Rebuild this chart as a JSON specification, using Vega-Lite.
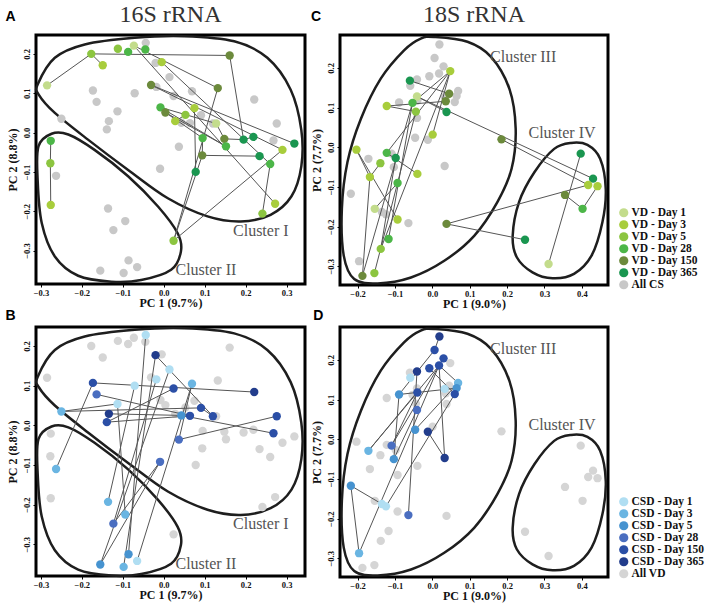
{
"$schema": "https://vega.github.io/schema/vega-lite/v6.json",
"background": "white",
"padding": {"left": 4, "top": 1, "right": 0, "bottom": 0},
"columns": 2,
"bounds": "flush",
"spacing": {"row": 42, "column": 35},
"resolve": {"scale": {"x": "independent", "y": "independent", "color": "independent"}, "legend": {"color": "independent"}},
"config": {
  "view": {"stroke": "#000", "strokeWidth": 3},
  "axis": {"domain": false, "grid": false, "ticks": true, "tickColor": "#000", "tickSize": 3, "labelFont": "Liberation Serif", "labelFontWeight": "bold", "labelFontSize": 8.5, "labelColor": "#111", "labelPadding": 2, "labelFlush": false, "labelOverlap": false, "titleFont": "Liberation Serif", "titleFontWeight": "bold", "titleFontSize": 12, "titleColor": "#111", "titlePadding": 3},
  "axisX": {"labelPadding": 1, "titlePadding": 1},
  "axisY": {"labelAngle": -90, "labelAlign": "center", "labelBaseline": "bottom"},
  "title": {"font": "Liberation Serif", "fontSize": 24, "fontWeight": "normal", "color": "#333", "anchor": "middle", "frame": "group", "offset": -17},
  "legend": {"labelFont": "Liberation Serif", "labelFontSize": 11.5, "labelFontWeight": "bold", "labelColor": "#111", "symbolSize": 85, "symbolType": "circle", "rowPadding": -1.2, "labelOffset": 2, "padding": 0, "symbolStrokeWidth": 0}
},
"datasets": {
  "p16": [
    {"x":-0.285,"y":0.12,"g":"VD","a":"VD - Day 1","b":"All VD"},
    {"x":-0.177,"y":0.2,"g":"VD","a":"VD - Day 5","b":"All VD"},
    {"x":-0.149,"y":0.171,"g":"VD","a":"VD - Day 3","b":"All VD"},
    {"x":-0.112,"y":0.213,"g":"VD","a":"VD - Day 5","b":"All VD"},
    {"x":-0.087,"y":0.205,"g":"VD","a":"VD - Day 28","b":"All VD"},
    {"x":-0.073,"y":0.221,"g":"VD","a":"VD - Day 1","b":"All VD"},
    {"x":-0.045,"y":0.211,"g":"VD","a":"VD - Day 28","b":"All VD"},
    {"x":-0.005,"y":0.179,"g":"VD","a":"VD - Day 3","b":"All VD"},
    {"x":0.161,"y":0.196,"g":"VD","a":"VD - Day 150","b":"All VD"},
    {"x":-0.031,"y":0.121,"g":"VD","a":"VD - Day 150","b":"All VD"},
    {"x":0.132,"y":0.113,"g":"VD","a":"VD - Day 150","b":"All VD"},
    {"x":-0.008,"y":0.064,"g":"VD","a":"VD - Day 28","b":"All VD"},
    {"x":0.004,"y":0.051,"g":"VD","a":"VD - Day 150","b":"All VD"},
    {"x":0.028,"y":0.029,"g":"VD","a":"VD - Day 3","b":"All VD"},
    {"x":0.053,"y":0.045,"g":"VD","a":"VD - Day 5","b":"All VD"},
    {"x":0.075,"y":0.062,"g":"VD","a":"VD - Day 3","b":"All VD"},
    {"x":0.128,"y":0.023,"g":"VD","a":"VD - Day 1","b":"All VD"},
    {"x":0.095,"y":-0.014,"g":"VD","a":"VD - Day 28","b":"All VD"},
    {"x":0.148,"y":-0.016,"g":"VD","a":"VD - Day 150","b":"All VD"},
    {"x":0.152,"y":-0.035,"g":"VD","a":"VD - Day 28","b":"All VD"},
    {"x":0.195,"y":-0.018,"g":"VD","a":"VD - Day 365","b":"All VD"},
    {"x":0.219,"y":-0.011,"g":"VD","a":"VD - Day 365","b":"All VD"},
    {"x":0.319,"y":-0.028,"g":"VD","a":"VD - Day 365","b":"All VD"},
    {"x":0.29,"y":-0.044,"g":"VD","a":"VD - Day 3","b":"All VD"},
    {"x":0.094,"y":-0.058,"g":"VD","a":"VD - Day 150","b":"All VD"},
    {"x":0.234,"y":-0.06,"g":"VD","a":"VD - Day 365","b":"All VD"},
    {"x":0.26,"y":-0.08,"g":"VD","a":"VD - Day 28","b":"All VD"},
    {"x":0.078,"y":-0.1,"g":"VD","a":"VD - Day 365","b":"All VD"},
    {"x":0.272,"y":-0.181,"g":"VD","a":"VD - Day 3","b":"All VD"},
    {"x":0.241,"y":-0.206,"g":"VD","a":"VD - Day 5","b":"All VD"},
    {"x":0.024,"y":-0.275,"g":"VD","a":"VD - Day 5","b":"All VD"},
    {"x":-0.276,"y":-0.021,"g":"VD","a":"VD - Day 28","b":"All VD"},
    {"x":-0.277,"y":-0.078,"g":"VD","a":"VD - Day 5","b":"All VD"},
    {"x":-0.276,"y":-0.184,"g":"VD","a":"VD - Day 3","b":"All VD"},
    {"x":-0.044,"y":0.228,"g":"CS","a":"All CS","b":"CSD - Day 1"},
    {"x":-0.02,"y":0.177,"g":"CS","a":"All CS","b":"CSD - Day 365"},
    {"x":0.014,"y":0.141,"g":"CS","a":"All CS","b":"CSD - Day 1"},
    {"x":-0.018,"y":0.116,"g":"CS","a":"All CS","b":"CSD - Day 1"},
    {"x":0.069,"y":0.105,"g":"CS","a":"All CS","b":"CSD - Day 3"},
    {"x":0.024,"y":0.093,"g":"CS","a":"All CS","b":"CSD - Day 150"},
    {"x":0.221,"y":0.084,"g":"CS","a":"All CS","b":"CSD - Day 365"},
    {"x":-0.173,"y":0.107,"g":"CS","a":"All CS","b":"CSD - Day 150"},
    {"x":-0.164,"y":0.078,"g":"CS","a":"All CS","b":"CSD - Day 28"},
    {"x":-0.071,"y":0.1,"g":"CS","a":"All CS","b":"CSD - Day 1"},
    {"x":-0.113,"y":0.054,"g":"CS","a":"All CS","b":"CSD - Day 1"},
    {"x":-0.25,"y":0.035,"g":"CS","a":"All CS","b":"CSD - Day 3"},
    {"x":-0.134,"y":0.029,"g":"CS","a":"All CS","b":"CSD - Day 365"},
    {"x":-0.139,"y":0.008,"g":"CS","a":"All CS","b":"CSD - Day 150"},
    {"x":0.043,"y":0.025,"g":"CS","a":"All CS","b":"CSD - Day 5"},
    {"x":0.064,"y":0.024,"g":"CS","a":"All CS","b":"CSD - Day 150"},
    {"x":0.091,"y":0.044,"g":"CS","a":"All CS","b":"CSD - Day 150"},
    {"x":0.12,"y":0.023,"g":"CS","a":"All CS","b":"CSD - Day 150"},
    {"x":0.276,"y":0.023,"g":"CS","a":"All CS","b":"CSD - Day 150"},
    {"x":0.268,"y":-0.02,"g":"CS","a":"All CS","b":"CSD - Day 150"},
    {"x":0.037,"y":-0.036,"g":"CS","a":"All CS","b":"CSD - Day 28"},
    {"x":-0.009,"y":-0.092,"g":"CS","a":"All CS","b":"CSD - Day 28"},
    {"x":-0.263,"y":-0.11,"g":"CS","a":"All CS","b":"CSD - Day 3"},
    {"x":-0.136,"y":-0.193,"g":"CS","a":"All CS","b":"CSD - Day 3"},
    {"x":-0.123,"y":-0.248,"g":"CS","a":"All CS","b":"CSD - Day 28"},
    {"x":-0.094,"y":-0.225,"g":"CS","a":"All CS","b":"CSD - Day 3"},
    {"x":-0.086,"y":-0.325,"g":"CS","a":"All CS","b":"CSD - Day 5"},
    {"x":-0.155,"y":-0.351,"g":"CS","a":"All CS","b":"CSD - Day 5"},
    {"x":-0.098,"y":-0.357,"g":"CS","a":"All CS","b":"CSD - Day 3"},
    {"x":-0.065,"y":-0.342,"g":"CS","a":"All CS","b":"CSD - Day 1"}
  ],
  "p18": [
    {"x":0.048,"y":0.192,"g":"VD","a":"VD - Day 3","b":"All VD"},
    {"x":-0.06,"y":0.168,"g":"VD","a":"VD - Day 365","b":"All VD"},
    {"x":-0.041,"y":0.128,"g":"VD","a":"VD - Day 1","b":"All VD"},
    {"x":-0.122,"y":0.104,"g":"VD","a":"VD - Day 3","b":"All VD"},
    {"x":-0.053,"y":0.112,"g":"VD","a":"VD - Day 28","b":"All VD"},
    {"x":-0.044,"y":0.09,"g":"VD","a":"VD - Day 5","b":"All VD"},
    {"x":0.036,"y":0.116,"g":"VD","a":"VD - Day 150","b":"All VD"},
    {"x":0.045,"y":0.135,"g":"VD","a":"VD - Day 150","b":"All VD"},
    {"x":0.038,"y":0.089,"g":"VD","a":"VD - Day 365","b":"All VD"},
    {"x":0.001,"y":0.032,"g":"VD","a":"VD - Day 3","b":"All VD"},
    {"x":0.185,"y":0.02,"g":"VD","a":"VD - Day 150","b":"All VD"},
    {"x":-0.203,"y":-0.006,"g":"VD","a":"VD - Day 3","b":"All VD"},
    {"x":-0.122,"y":-0.014,"g":"VD","a":"VD - Day 28","b":"All VD"},
    {"x":-0.139,"y":-0.04,"g":"VD","a":"VD - Day 5","b":"All VD"},
    {"x":-0.098,"y":-0.027,"g":"VD","a":"VD - Day 365","b":"All VD"},
    {"x":-0.167,"y":-0.075,"g":"VD","a":"VD - Day 3","b":"All VD"},
    {"x":-0.093,"y":-0.09,"g":"VD","a":"VD - Day 28","b":"All VD"},
    {"x":-0.04,"y":-0.067,"g":"VD","a":"VD - Day 3","b":"All VD"},
    {"x":-0.154,"y":-0.155,"g":"VD","a":"VD - Day 1","b":"All VD"},
    {"x":-0.093,"y":-0.182,"g":"VD","a":"VD - Day 3","b":"All VD"},
    {"x":-0.117,"y":-0.231,"g":"VD","a":"VD - Day 28","b":"All VD"},
    {"x":-0.138,"y":-0.256,"g":"VD","a":"VD - Day 5","b":"All VD"},
    {"x":-0.187,"y":-0.324,"g":"VD","a":"VD - Day 150","b":"All VD"},
    {"x":-0.155,"y":-0.317,"g":"VD","a":"VD - Day 5","b":"All VD"},
    {"x":0.038,"y":-0.193,"g":"VD","a":"VD - Day 150","b":"All VD"},
    {"x":0.248,"y":-0.233,"g":"VD","a":"VD - Day 365","b":"All VD"},
    {"x":0.397,"y":-0.016,"g":"VD","a":"VD - Day 365","b":"All VD"},
    {"x":0.43,"y":-0.079,"g":"VD","a":"VD - Day 365","b":"All VD"},
    {"x":0.417,"y":-0.095,"g":"VD","a":"VD - Day 3","b":"All VD"},
    {"x":0.442,"y":-0.098,"g":"VD","a":"VD - Day 3","b":"All VD"},
    {"x":0.355,"y":-0.12,"g":"VD","a":"VD - Day 150","b":"All VD"},
    {"x":0.402,"y":-0.155,"g":"VD","a":"VD - Day 28","b":"All VD"},
    {"x":0.311,"y":-0.294,"g":"VD","a":"VD - Day 1","b":"All VD"},
    {"x":0.019,"y":0.259,"g":"CS","a":"All CS","b":"CSD - Day 365"},
    {"x":0.006,"y":0.225,"g":"CS","a":"All CS","b":"CSD - Day 150"},
    {"x":0.03,"y":0.204,"g":"CS","a":"All CS","b":"CSD - Day 150"},
    {"x":0.018,"y":0.186,"g":"CS","a":"All CS","b":"CSD - Day 150"},
    {"x":-0.008,"y":0.179,"g":"CS","a":"All CS","b":"CSD - Day 150"},
    {"x":-0.041,"y":0.171,"g":"CS","a":"All CS","b":"CSD - Day 365"},
    {"x":-0.059,"y":0.155,"g":"CS","a":"All CS","b":"CSD - Day 1"},
    {"x":0.069,"y":0.142,"g":"CS","a":"All CS","b":"CSD - Day 3"},
    {"x":0.065,"y":0.129,"g":"CS","a":"All CS","b":"CSD - Day 5"},
    {"x":0.06,"y":0.114,"g":"CS","a":"All CS","b":"CSD - Day 150"},
    {"x":-0.089,"y":0.113,"g":"CS","a":"All CS","b":"CSD - Day 5"},
    {"x":-0.04,"y":0.118,"g":"CS","a":"All CS","b":"CSD - Day 150"},
    {"x":-0.041,"y":0.074,"g":"CS","a":"All CS","b":"CSD - Day 28"},
    {"x":-0.046,"y":0.024,"g":"CS","a":"All CS","b":"CSD - Day 5"},
    {"x":-0.012,"y":0.019,"g":"CS","a":"All CS","b":"CSD - Day 365"},
    {"x":0.033,"y":-0.047,"g":"CS","a":"All CS","b":"CSD - Day 365"},
    {"x":-0.171,"y":-0.029,"g":"CS","a":"All CS","b":"CSD - Day 3"},
    {"x":-0.109,"y":-0.016,"g":"CS","a":"All CS","b":"CSD - Day 28"},
    {"x":-0.103,"y":-0.05,"g":"CS","a":"All CS","b":"CSD - Day 5"},
    {"x":-0.218,"y":-0.117,"g":"CS","a":"All CS","b":"CSD - Day 5"},
    {"x":-0.135,"y":-0.163,"g":"CS","a":"All CS","b":"CSD - Day 1"},
    {"x":-0.124,"y":-0.169,"g":"CS","a":"All CS","b":"CSD - Day 1"},
    {"x":-0.064,"y":-0.191,"g":"CS","a":"All CS","b":"CSD - Day 28"},
    {"x":-0.196,"y":-0.287,"g":"CS","a":"All CS","b":"CSD - Day 3"},
    {"x":0.033,"y":0.127,"g":"CS","a":"All CS","b":"CSD - Day 1"}
  ],
  "o16": [
    {"k":"I","o":1,"x":-0.308,"y":0.122},{"k":"I","o":2,"x":-0.266,"y":0.19},{"k":"I","o":3,"x":-0.193,"y":0.224},{"k":"I","o":4,"x":-0.071,"y":0.241},{"k":"I","o":5,"x":0.05,"y":0.245},{"k":"I","o":6,"x":0.172,"y":0.232},{"k":"I","o":7,"x":0.253,"y":0.19},{"k":"I","o":8,"x":0.31,"y":0.109},{"k":"I","o":9,"x":0.336,"y":0.007},{"k":"I","o":10,"x":0.336,"y":-0.086},{"k":"I","o":11,"x":0.312,"y":-0.162},{"k":"I","o":12,"x":0.261,"y":-0.209},{"k":"I","o":13,"x":0.188,"y":-0.226},{"k":"I","o":14,"x":0.107,"y":-0.213},{"k":"I","o":15,"x":0.01,"y":-0.167},{"k":"I","o":16,"x":-0.087,"y":-0.095},{"k":"I","o":17,"x":-0.185,"y":-0.018},{"k":"I","o":18,"x":-0.266,"y":0.05},{"k":"I","o":19,"x":-0.305,"y":0.096},
    {"k":"II","o":1,"x":-0.306,"y":-0.035},{"k":"II","o":2,"x":-0.274,"y":-0.003},{"k":"II","o":3,"x":-0.233,"y":-0.005},{"k":"II","o":4,"x":-0.169,"y":-0.044},{"k":"II","o":5,"x":-0.087,"y":-0.111},{"k":"II","o":6,"x":-0.014,"y":-0.188},{"k":"II","o":7,"x":0.034,"y":-0.256},{"k":"II","o":8,"x":0.042,"y":-0.302},{"k":"II","o":9,"x":0.018,"y":-0.349},{"k":"II","o":10,"x":-0.055,"y":-0.375},{"k":"II","o":11,"x":-0.128,"y":-0.379},{"k":"II","o":12,"x":-0.209,"y":-0.364},{"k":"II","o":13,"x":-0.266,"y":-0.315},{"k":"II","o":14,"x":-0.298,"y":-0.23},{"k":"II","o":15,"x":-0.308,"y":-0.12}
  ],
  "o18": [
    {"k":"III","o":1,"x":0.005,"y":0.278},{"k":"III","o":2,"x":0.094,"y":0.266},{"k":"III","o":3,"x":0.157,"y":0.228},{"k":"III","o":4,"x":0.206,"y":0.148},{"k":"III","o":5,"x":0.223,"y":0.047},{"k":"III","o":6,"x":0.212,"y":-0.054},{"k":"III","o":7,"x":0.174,"y":-0.138},{"k":"III","o":8,"x":0.112,"y":-0.223},{"k":"III","o":9,"x":0.032,"y":-0.286},{"k":"III","o":10,"x":-0.057,"y":-0.328},{"k":"III","o":11,"x":-0.146,"y":-0.343},{"k":"III","o":12,"x":-0.209,"y":-0.332},{"k":"III","o":13,"x":-0.237,"y":-0.273},{"k":"III","o":14,"x":-0.242,"y":-0.155},{"k":"III","o":15,"x":-0.227,"y":-0.037},{"k":"III","o":16,"x":-0.191,"y":0.072},{"k":"III","o":17,"x":-0.138,"y":0.173},{"k":"III","o":18,"x":-0.075,"y":0.245},{"k":"III","o":19,"x":-0.031,"y":0.274},
    {"k":"IV","o":1,"x":0.326,"y":-0.004},{"k":"IV","o":2,"x":0.371,"y":0.011},{"k":"IV","o":3,"x":0.415,"y":0.006},{"k":"IV","o":4,"x":0.449,"y":-0.029},{"k":"IV","o":5,"x":0.464,"y":-0.105},{"k":"IV","o":6,"x":0.455,"y":-0.189},{"k":"IV","o":7,"x":0.426,"y":-0.273},{"k":"IV","o":8,"x":0.379,"y":-0.319},{"k":"IV","o":9,"x":0.322,"y":-0.33},{"k":"IV","o":10,"x":0.268,"y":-0.315},{"k":"IV","o":11,"x":0.226,"y":-0.277},{"k":"IV","o":12,"x":0.215,"y":-0.223},{"k":"IV","o":13,"x":0.232,"y":-0.138},{"k":"IV","o":14,"x":0.273,"y":-0.063}
  ],
  "l16": [{"t":"Cluster I","x":0.237,"y":-0.25},{"t":"Cluster II","x":0.103,"y":-0.349}],
  "l18": [{"t":"Cluster III","x":0.243,"y":0.228},{"t":"Cluster IV","x":0.347,"y":0.037}],
  "sA": [
    {"x":-0.285,"y":0.12,"x2":-0.177,"y2":0.2},{"x":-0.177,"y":0.2,"x2":-0.149,"y2":0.171},{"x":-0.177,"y":0.2,"x2":0.161,"y2":0.196},{"x":0.161,"y":0.196,"x2":0.195,"y2":-0.018},{"x":0.195,"y":-0.018,"x2":0.148,"y2":-0.016},{"x":0.195,"y":-0.018,"x2":0.219,"y2":-0.011},{"x":-0.073,"y":0.221,"x2":0.132,"y2":0.113},{"x":-0.005,"y":0.179,"x2":0.26,"y2":-0.08},{"x":-0.073,"y":0.221,"x2":0.272,"y2":-0.181},{"x":0.132,"y":0.113,"x2":0.024,"y2":-0.275},{"x":0.024,"y":-0.275,"x2":0.29,"y2":-0.044},{"x":0.26,"y":-0.08,"x2":0.241,"y2":-0.206},{"x":-0.031,"y":0.121,"x2":0.319,"y2":-0.028},{"x":-0.031,"y":0.121,"x2":0.29,"y2":-0.044},{"x":-0.008,"y":0.064,"x2":0.152,"y2":-0.035},{"x":-0.008,"y":0.064,"x2":0.128,"y2":0.023},{"x":0.004,"y":0.051,"x2":0.095,"y2":-0.014},{"x":0.028,"y":0.029,"x2":0.053,"y2":0.045},{"x":0.094,"y":-0.058,"x2":0.234,"y2":-0.06},{"x":0.075,"y":0.062,"x2":0.078,"y2":-0.1},{"x":0.095,"y":-0.014,"x2":0.094,"y2":-0.058},{"x":0.128,"y":0.023,"x2":0.148,"y2":-0.016},{"x":-0.276,"y":-0.021,"x2":-0.277,"y2":-0.078},{"x":-0.277,"y":-0.078,"x2":-0.276,"y2":-0.184},{"x":0.024,"y":-0.275,"x2":0.094,"y2":-0.058},{"x":0.004,"y":0.051,"x2":0.152,"y2":-0.035}
  ],
  "sB": [
    {"x":-0.044,"y":0.228,"x2":-0.086,"y2":-0.325},{"x":-0.02,"y":0.177,"x2":0.12,"y2":0.023},{"x":-0.02,"y":0.177,"x2":-0.098,"y2":-0.357},{"x":0.014,"y":0.141,"x2":-0.155,"y2":-0.351},{"x":-0.018,"y":0.116,"x2":-0.123,"y2":-0.248},{"x":0.069,"y":0.105,"x2":-0.065,"y2":-0.342},{"x":0.069,"y":0.105,"x2":0.037,"y2":-0.036},{"x":0.024,"y":0.093,"x2":-0.139,"y2":0.008},{"x":-0.173,"y":0.107,"x2":0.221,"y2":0.084},{"x":-0.173,"y":0.107,"x2":-0.263,"y2":-0.11},{"x":-0.164,"y":0.078,"x2":0.064,"y2":0.024},{"x":-0.25,"y":0.035,"x2":0.091,"y2":0.044},{"x":-0.25,"y":0.035,"x2":-0.113,"y2":0.054},{"x":-0.134,"y":0.029,"x2":0.043,"y2":0.025},{"x":-0.139,"y":0.008,"x2":0.064,"y2":0.024},{"x":0.037,"y":-0.036,"x2":0.276,"y2":0.023},{"x":-0.009,"y":-0.092,"x2":-0.155,"y2":-0.351},{"x":-0.009,"y":-0.092,"x2":-0.123,"y2":-0.248},{"x":0.091,"y":0.044,"x2":0.12,"y2":0.023},{"x":-0.071,"y":0.1,"x2":-0.136,"y2":-0.193},{"x":0.043,"y":0.025,"x2":0.268,"y2":-0.02},{"x":-0.113,"y":0.054,"x2":-0.094,"y2":-0.225}
  ],
  "sC": [
    {"x":0.048,"y":0.192,"x2":-0.122,"y2":-0.014},{"x":0.048,"y":0.192,"x2":-0.138,"y2":-0.256},{"x":0.048,"y":0.192,"x2":-0.053,"y2":0.112},{"x":-0.122,"y":0.104,"x2":0.036,"y2":0.116},{"x":-0.122,"y":0.104,"x2":-0.044,"y2":0.09},{"x":-0.06,"y":0.168,"x2":0.045,"y2":0.135},{"x":-0.041,"y":0.128,"x2":0.43,"y2":-0.079},{"x":0.185,"y":0.02,"x2":0.417,"y2":-0.095},{"x":0.038,"y":-0.193,"x2":0.417,"y2":-0.095},{"x":0.038,"y":-0.193,"x2":0.248,"y2":-0.233},{"x":0.311,"y":-0.294,"x2":0.397,"y2":-0.016},{"x":0.355,"y":-0.12,"x2":0.402,"y2":-0.155},{"x":0.402,"y":-0.155,"x2":0.442,"y2":-0.098},{"x":-0.203,"y":-0.006,"x2":-0.167,"y2":-0.075},{"x":-0.203,"y":-0.006,"x2":-0.093,"y2":-0.182},{"x":-0.167,"y":-0.075,"x2":-0.139,"y2":-0.04},{"x":-0.187,"y":-0.324,"x2":-0.053,"y2":0.112},{"x":-0.187,"y":-0.324,"x2":-0.167,"y2":-0.075},{"x":-0.155,"y":-0.317,"x2":-0.044,"y2":0.09},{"x":-0.117,"y":-0.231,"x2":-0.053,"y2":0.112},{"x":-0.138,"y":-0.256,"x2":-0.098,"y2":-0.027},{"x":-0.122,"y":-0.014,"x2":-0.04,"y2":-0.067},{"x":0.001,"y":0.032,"x2":0.048,"y2":0.192},{"x":-0.154,"y":-0.155,"x2":-0.093,"y2":-0.09},{"x":0.038,"y":0.089,"x2":-0.041,"y2":0.128}
  ],
  "sD": [
    {"x":0.019,"y":0.259,"x2":0.006,"y2":0.225},{"x":0.006,"y":0.225,"x2":-0.089,"y2":0.113},{"x":0.018,"y":0.186,"x2":-0.171,"y2":-0.029},{"x":0.018,"y":0.186,"x2":-0.109,"y2":-0.016},{"x":0.018,"y":0.186,"x2":-0.196,"y2":-0.287},{"x":0.018,"y":0.186,"x2":0.069,"y2":0.142},{"x":0.018,"y":0.186,"x2":0.033,"y2":-0.047},{"x":-0.012,"y":0.019,"x2":0.033,"y2":-0.047},{"x":-0.041,"y":0.171,"x2":-0.064,"y2":-0.191},{"x":-0.089,"y":0.113,"x2":0.065,"y2":0.129},{"x":-0.218,"y":-0.117,"x2":-0.135,"y2":-0.163},{"x":-0.218,"y":-0.117,"x2":-0.196,"y2":-0.287},{"x":-0.124,"y":-0.169,"x2":0.06,"y2":0.114},{"x":-0.103,"y":-0.05,"x2":-0.041,"y2":0.074},{"x":-0.109,"y":-0.016,"x2":-0.04,"y2":0.118},{"x":-0.171,"y":-0.029,"x2":-0.04,"y2":0.118},{"x":-0.046,"y":0.024,"x2":0.069,"y2":0.142},{"x":-0.008,"y":0.179,"x2":0.06,"y2":0.114},{"x":-0.103,"y":-0.05,"x2":-0.089,"y2":0.113}
  ]
},
"concat": [
  {
    "width": 269, "height": 249,
    "title": {"text": "16S rRNA"},
    "layer": [
      {"data": {"name": "o16"}, "mark": {"type": "line", "interpolate": "cardinal-closed", "color": "#1e1e1e", "strokeWidth": 2.5},
       "encoding": {
         "x": {"field": "x", "type": "quantitative", "scale": {"domain": [-0.312, 0.345], "nice": false, "zero": false}, "axis": {"values": [-0.3,-0.2,-0.1,0,0.1,0.2,0.3], "format": ".1f", "title": "PC 1 (9.7%)"}},
         "y": {"field": "y", "type": "quantitative", "scale": {"domain": [-0.385, 0.248], "nice": false, "zero": false}, "axis": {"values": [-0.3,-0.2,-0.1,0,0.1,0.2], "format": ".1f", "title": "PC 2 (8.8%)"}},
         "detail": {"field": "k"}, "order": {"field": "o"}}},
      {"data": {"name": "p16"}, "transform": [{"filter": "datum.g == 'CS'"}], "mark": {"type": "point", "filled": true, "size": 70, "opacity": 1},
       "encoding": {"x": {"field": "x", "type": "quantitative"}, "y": {"field": "y", "type": "quantitative"},
         "color": {"field": "a", "type": "nominal", "scale": {"domain": ["VD - Day 1","VD - Day 3","VD - Day 5","VD - Day 28","VD - Day 150","VD - Day 365","All CS"], "range": ["#c3dc8c","#a8cd3c","#8cc540","#4cb648","#6c8a3c","#1a9650","#c8c8c8"]}, "legend": null}}},
      {"data": {"name": "sA"}, "mark": {"type": "rule", "color": "#555", "strokeWidth": 1},
       "encoding": {"x": {"field": "x", "type": "quantitative"}, "y": {"field": "y", "type": "quantitative"}, "x2": {"field": "x2"}, "y2": {"field": "y2"}}},
      {"data": {"name": "p16"}, "transform": [{"filter": "datum.g == 'VD'"}], "mark": {"type": "point", "filled": true, "size": 70, "opacity": 1},
       "encoding": {"x": {"field": "x", "type": "quantitative"}, "y": {"field": "y", "type": "quantitative"},
         "color": {"field": "a", "type": "nominal", "legend": null}}},
      {"data": {"name": "l16"}, "mark": {"type": "text", "font": "Liberation Serif", "fontSize": 16, "color": "#555"},
       "encoding": {"x": {"field": "x", "type": "quantitative"}, "y": {"field": "y", "type": "quantitative"}, "text": {"field": "t"}}},
      {"data": {"values": [{"t": "A"}]}, "mark": {"type": "text", "font": "Liberation Sans", "fontWeight": "bold", "fontSize": 14, "color": "#000"},
       "encoding": {"x": {"datum": -0.374}, "y": {"datum": 0.294}, "text": {"field": "t"}}}
    ]
  },
  {
    "width": 268, "height": 250,
    "title": {"text": "18S rRNA"},
    "layer": [
      {"data": {"name": "o18"}, "mark": {"type": "line", "interpolate": "cardinal-closed", "color": "#1e1e1e", "strokeWidth": 2.5},
       "encoding": {
         "x": {"field": "x", "type": "quantitative", "scale": {"domain": [-0.247, 0.47], "nice": false, "zero": false}, "axis": {"values": [-0.2,-0.1,0,0.1,0.2,0.3,0.4], "format": ".1f", "title": "PC 1 (9.0%)"}},
         "y": {"field": "y", "type": "quantitative", "scale": {"domain": [-0.347, 0.283], "nice": false, "zero": false}, "axis": {"values": [-0.3,-0.2,-0.1,0,0.1,0.2], "format": ".1f", "title": "PC 2 (7.7%)"}},
         "detail": {"field": "k"}, "order": {"field": "o"}}},
      {"data": {"name": "p18"}, "transform": [{"filter": "datum.g == 'CS'"}], "mark": {"type": "point", "filled": true, "size": 70, "opacity": 1},
       "encoding": {"x": {"field": "x", "type": "quantitative"}, "y": {"field": "y", "type": "quantitative"},
         "color": {"field": "a", "type": "nominal", "scale": {"domain": ["VD - Day 1","VD - Day 3","VD - Day 5","VD - Day 28","VD - Day 150","VD - Day 365","All CS"], "range": ["#c3dc8c","#a8cd3c","#8cc540","#4cb648","#6c8a3c","#1a9650","#c8c8c8"]}, "legend": {"orient": "none", "legendX": 278, "legendY": 172, "title": null}}}},
      {"data": {"name": "sC"}, "mark": {"type": "rule", "color": "#555", "strokeWidth": 1},
       "encoding": {"x": {"field": "x", "type": "quantitative"}, "y": {"field": "y", "type": "quantitative"}, "x2": {"field": "x2"}, "y2": {"field": "y2"}}},
      {"data": {"name": "p18"}, "transform": [{"filter": "datum.g == 'VD'"}], "mark": {"type": "point", "filled": true, "size": 70, "opacity": 1},
       "encoding": {"x": {"field": "x", "type": "quantitative"}, "y": {"field": "y", "type": "quantitative"},
         "color": {"field": "a", "type": "nominal", "legend": {"orient": "none", "legendX": 278, "legendY": 172, "title": null}}}},
      {"data": {"name": "l18"}, "mark": {"type": "text", "font": "Liberation Serif", "fontSize": 16, "color": "#555"},
       "encoding": {"x": {"field": "x", "type": "quantitative"}, "y": {"field": "y", "type": "quantitative"}, "text": {"field": "t"}}},
      {"data": {"values": [{"t": "C"}]}, "mark": {"type": "text", "font": "Liberation Sans", "fontWeight": "bold", "fontSize": 14, "color": "#000"},
       "encoding": {"x": {"datum": -0.311}, "y": {"datum": 0.328}, "text": {"field": "t"}}}
    ]
  },
  {
    "width": 269, "height": 249,
    "layer": [
      {"data": {"name": "o16"}, "mark": {"type": "line", "interpolate": "cardinal-closed", "color": "#1e1e1e", "strokeWidth": 2.5},
       "encoding": {
         "x": {"field": "x", "type": "quantitative", "scale": {"domain": [-0.312, 0.345], "nice": false, "zero": false}, "axis": {"values": [-0.3,-0.2,-0.1,0,0.1,0.2,0.3], "format": ".1f", "title": "PC 1 (9.7%)"}},
         "y": {"field": "y", "type": "quantitative", "scale": {"domain": [-0.38, 0.248], "nice": false, "zero": false}, "axis": {"values": [-0.3,-0.2,-0.1,0,0.1,0.2], "format": ".1f", "title": "PC 2 (8.8%)"}},
         "detail": {"field": "k"}, "order": {"field": "o"}}},
      {"data": {"name": "p16"}, "transform": [{"filter": "datum.g == 'VD'"}], "mark": {"type": "point", "filled": true, "size": 70, "opacity": 1},
       "encoding": {"x": {"field": "x", "type": "quantitative"}, "y": {"field": "y", "type": "quantitative"},
         "color": {"field": "b", "type": "nominal", "scale": {"domain": ["CSD - Day 1","CSD - Day 3","CSD - Day 5","CSD - Day 28","CSD - Day 150","CSD - Day 365","All VD"], "range": ["#b0def2","#6ab5e2","#4693d0","#4a6ec0","#2b4fa6","#223d8c","#d5d5d5"]}, "legend": null}}},
      {"data": {"name": "sB"}, "mark": {"type": "rule", "color": "#555", "strokeWidth": 1},
       "encoding": {"x": {"field": "x", "type": "quantitative"}, "y": {"field": "y", "type": "quantitative"}, "x2": {"field": "x2"}, "y2": {"field": "y2"}}},
      {"data": {"name": "p16"}, "transform": [{"filter": "datum.g == 'CS'"}], "mark": {"type": "point", "filled": true, "size": 70, "opacity": 1},
       "encoding": {"x": {"field": "x", "type": "quantitative"}, "y": {"field": "y", "type": "quantitative"},
         "color": {"field": "b", "type": "nominal", "legend": null}}},
      {"data": {"name": "l16"}, "mark": {"type": "text", "font": "Liberation Serif", "fontSize": 16, "color": "#555"},
       "encoding": {"x": {"field": "x", "type": "quantitative"}, "y": {"field": "y", "type": "quantitative"}, "text": {"field": "t"}}},
      {"data": {"values": [{"t": "B"}]}, "mark": {"type": "text", "font": "Liberation Sans", "fontWeight": "bold", "fontSize": 14, "color": "#000"},
       "encoding": {"x": {"datum": -0.374}, "y": {"datum": 0.276}, "text": {"field": "t"}}}
    ]
  },
  {
    "width": 268, "height": 250,
    "layer": [
      {"data": {"name": "o18"}, "mark": {"type": "line", "interpolate": "cardinal-closed", "color": "#1e1e1e", "strokeWidth": 2.5},
       "encoding": {
         "x": {"field": "x", "type": "quantitative", "scale": {"domain": [-0.247, 0.47], "nice": false, "zero": false}, "axis": {"values": [-0.2,-0.1,0,0.1,0.2,0.3,0.4], "format": ".1f", "title": "PC 1 (9.0%)"}},
         "y": {"field": "y", "type": "quantitative", "scale": {"domain": [-0.347, 0.283], "nice": false, "zero": false}, "axis": {"values": [-0.3,-0.2,-0.1,0,0.1,0.2], "format": ".1f", "title": "PC 2 (7.7%)"}},
         "detail": {"field": "k"}, "order": {"field": "o"}}},
      {"data": {"name": "p18"}, "transform": [{"filter": "datum.g == 'VD'"}], "mark": {"type": "point", "filled": true, "size": 70, "opacity": 1},
       "encoding": {"x": {"field": "x", "type": "quantitative"}, "y": {"field": "y", "type": "quantitative"},
         "color": {"field": "b", "type": "nominal", "scale": {"domain": ["CSD - Day 1","CSD - Day 3","CSD - Day 5","CSD - Day 28","CSD - Day 150","CSD - Day 365","All VD"], "range": ["#b0def2","#6ab5e2","#4693d0","#4a6ec0","#2b4fa6","#223d8c","#d5d5d5"]}, "legend": {"orient": "none", "legendX": 278, "legendY": 169, "title": null}}}},
      {"data": {"name": "sD"}, "mark": {"type": "rule", "color": "#555", "strokeWidth": 1},
       "encoding": {"x": {"field": "x", "type": "quantitative"}, "y": {"field": "y", "type": "quantitative"}, "x2": {"field": "x2"}, "y2": {"field": "y2"}}},
      {"data": {"name": "p18"}, "transform": [{"filter": "datum.g == 'CS'"}], "mark": {"type": "point", "filled": true, "size": 70, "opacity": 1},
       "encoding": {"x": {"field": "x", "type": "quantitative"}, "y": {"field": "y", "type": "quantitative"},
         "color": {"field": "b", "type": "nominal", "legend": {"orient": "none", "legendX": 278, "legendY": 169, "title": null}}}},
      {"data": {"name": "l18"}, "mark": {"type": "text", "font": "Liberation Serif", "fontSize": 16, "color": "#555"},
       "encoding": {"x": {"field": "x", "type": "quantitative"}, "y": {"field": "y", "type": "quantitative"}, "text": {"field": "t"}}},
      {"data": {"values": [{"t": "D"}]}, "mark": {"type": "text", "font": "Liberation Sans", "fontWeight": "bold", "fontSize": 14, "color": "#000"},
       "encoding": {"x": {"datum": -0.305}, "y": {"datum": 0.311}, "text": {"field": "t"}}}
    ]
  }
]
}
